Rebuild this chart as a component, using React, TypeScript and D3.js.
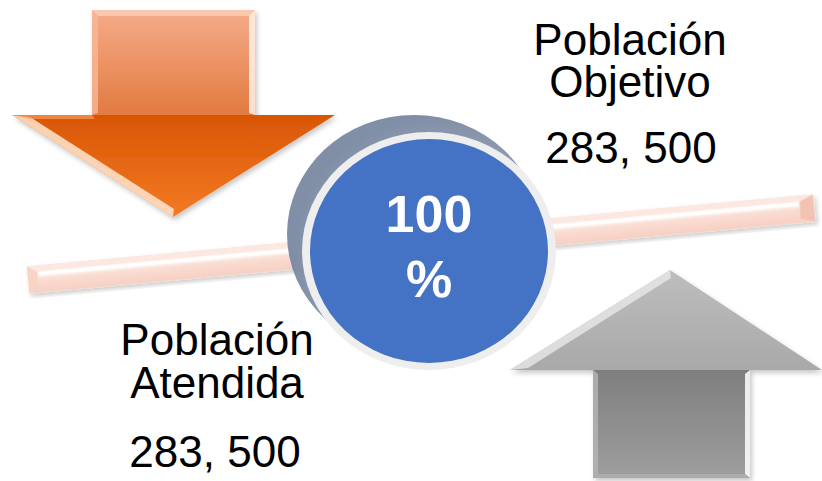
import React from 'react';
import * as d3 from 'd3';

// text blocks
const objetivoLines = ['Población', 'Objetivo'];
const atendidaLines = ['Población', 'Atendida'];
const objetivoValue = '283, 500';
const atendidaValue = '283, 500';
const coverageLines = ['100', '%'];

const W = 822;
const H = 481;

// arrow outlines in page coordinates
const downArrow: [number, number][] = [
  [92, 10], [255, 10], [255, 115], [335, 115], [173, 217], [12, 115], [92, 115],
];
const upArrow: [number, number][] = [
  [670, 270], [822, 370], [750, 370], [750, 478], [593, 478], [593, 370], [510, 370],
];

const line = d3.line().curve(d3.curveLinearClosed);

const App = () => {
  // bar running across behind the circle
  const barStart = [28, 280];
  const barEnd = [814, 208];
  const barLen = Math.hypot(barEnd[0] - barStart[0], barEnd[1] - barStart[1]);
  const barAngle = (Math.atan2(barEnd[1] - barStart[1], barEnd[0] - barStart[0]) * 180) / Math.PI;
  const barH = 27;

  const cx = 429;
  const cy = 251;

  return (
    <svg
      width={W}
      height={H}
      style={{ position: 'absolute', left: 0, top: 0, display: 'block', background: '#fff' }}
    >
      <defs>
        <linearGradient id="shaftOrange" x1="0" y1="0" x2="0" y2="1">
          <stop offset="0" stopColor="#F5AC8A" />
          <stop offset="1" stopColor="#E2793F" />
        </linearGradient>
        <linearGradient id="headOrange" x1="0" y1="0" x2="0" y2="1">
          <stop offset="0" stopColor="#D85604" />
          <stop offset="1" stopColor="#F47A24" />
        </linearGradient>
        <linearGradient id="shaftGray" x1="0" y1="0" x2="0" y2="1">
          <stop offset="0" stopColor="#7E7E7E" />
          <stop offset="1" stopColor="#9E9E9E" />
        </linearGradient>
        <linearGradient id="headGray" x1="0" y1="0" x2="0" y2="1">
          <stop offset="0" stopColor="#BDBDBD" />
          <stop offset="1" stopColor="#A9A9A9" />
        </linearGradient>
        <linearGradient id="barFill" x1="0" y1="0" x2="0" y2="1">
          <stop offset="0" stopColor="#F9D6CA" />
          <stop offset="0.3" stopColor="#FFFAF8" />
          <stop offset="0.5" stopColor="#FADDD3" />
          <stop offset="1" stopColor="#F7CFC2" />
        </linearGradient>
        <radialGradient id="shadowCircle" cx="0.62" cy="0.6" r="0.6">
          <stop offset="0.7" stopColor="#8D9BB3" />
          <stop offset="1" stopColor="#7A88A2" />
        </radialGradient>
        <filter id="soft" x="-10%" y="-10%" width="130%" height="130%">
          <feDropShadow dx="2" dy="3" stdDeviation="2.5" floodColor="#000" floodOpacity="0.22" />
        </filter>
      </defs>

      {/* bar */}
      <g transform={`translate(${barStart[0]},${barStart[1]}) rotate(${barAngle})`} filter="url(#soft)">
        <rect x={0} y={-barH / 2} width={barLen} height={barH} fill="url(#barFill)" />
        <path
          d={`M0,${-barH / 2} L${barLen},${-barH / 2} L${barLen - 14},${-barH / 2 + 6} L10,${-barH / 2 + 6} Z`}
          fill="#FCE8E0"
        />
        <path
          d={`M0,${-barH / 2} L10,${-barH / 2 + 6} L10,${barH / 2 - 4} L0,${barH / 2} Z`}
          fill="#F8D4C7"
        />
        <path
          d={`M${barLen},${-barH / 2} L${barLen - 14},${-barH / 2 + 6} L${barLen - 14},${barH / 2 - 4} L${barLen},${barH / 2} Z`}
          fill="#F2C2B2"
        />
        <line x1={12} x2={barLen - 16} y1={-barH / 2 + 8} y2={-barH / 2 + 8} stroke="#fff" strokeWidth={4} opacity={0.9} />
      </g>

      {/* down arrow */}
      <g filter="url(#soft)">
        <rect x={92} y={10} width={163} height={107} fill="url(#shaftOrange)" />
        <path d={line(downArrow.slice(2, 7).concat([[255, 115]]) as [number, number][]) || ''} fill="url(#headOrange)" />
        <path d="M92,10 L255,10 L249,16 L98,16 Z" fill="#FBD0BA" opacity={0.8} />
        <path d="M255,10 L255,115 L249,113 L249,16 Z" fill="#FFF1E8" opacity={0.85} />
        <path d="M92,10 L98,16 L98,113 L92,115 Z" fill="#F8B898" opacity={0.8} />
        <path d="M12,115 L173,217 L174,209 L30,117 Z" fill="#FFE6CF" opacity={0.85} />
        <path d="M12,115 L92,115 L95,119 L30,119 Z" fill="#F79A5A" opacity={0.7} />
      </g>

      {/* up arrow */}
      <g filter="url(#soft)">
        <rect x={593} y={368} width={157} height={110} fill="url(#shaftGray)" />
        <path d={line(upArrow.slice(0, 3).concat([[593, 370], [510, 370]]) as [number, number][]) || ''} fill="url(#headGray)" />
        <path d="M510,370 L670,270 L671,278 L528,368 Z" fill="#E8E8E8" opacity={0.8} />
        <path d="M750,370 L750,478 L745,474 L745,374 Z" fill="#FFFFFF" opacity={0.85} />
        <path d="M593,370 L598,374 L598,474 L593,478 Z" fill="#B5B5B5" opacity={0.8} />
        <path d="M593,478 L750,478 L745,474 L598,474 Z" fill="#B0B0B0" opacity={0.8} />
      </g>

      {/* circle with offset shadow disc */}
      <ellipse cx={cx - 15} cy={cy - 17} rx={127} ry={119} fill="url(#shadowCircle)" opacity={0.95} />
      <ellipse cx={cx} cy={cy} rx={127} ry={119} fill="#EEEEEE" />
      <ellipse cx={cx} cy={cy} rx={119} ry={112} fill="#4472C4" />

      <g fontFamily="'Liberation Sans', Arial, sans-serif" fontWeight="bold" fill="#fff" textAnchor="middle" fontSize={52}>
        {coverageLines.map((t, i) => (
          <text key={i} x={cx} y={232 + i * 65}>{t}</text>
        ))}
      </g>

      <g fontFamily="'Liberation Sans', Arial, sans-serif" fill="#000" textAnchor="middle" fontSize={44}>
        {objetivoLines.map((t, i) => (
          <text key={'o' + i} x={630} y={55 + i * 42}>{t}</text>
        ))}
        <text x={631} y={163}>{objetivoValue}</text>
        {atendidaLines.map((t, i) => (
          <text key={'a' + i} x={217} y={355 + i * 43}>{t}</text>
        ))}
        <text x={215} y={467}>{atendidaValue}</text>
      </g>
    </svg>
  );
};

export default App;
